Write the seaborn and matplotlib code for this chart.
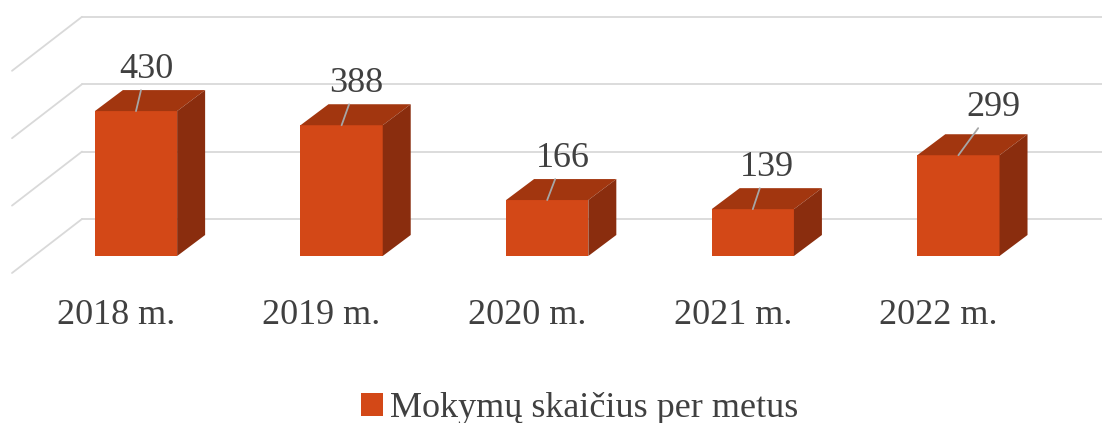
import numpy as np
import pandas as pd
import seaborn as sns
import matplotlib.pyplot as plt
from matplotlib.patches import Polygon

years = ["2018 m.", "2019 m.", "2020 m.", "2021 m.", "2022 m."]
counts = [430, 388, 166, 139, 299]
series_name = "Mokymų skaičius per metus"
grid_values = [0, 200, 400, 600]
# label offsets (pixels right, pixels up) from the bar top
label_offsets = [(10, 42), (15, 42), (16, 42), (14, 42), (35, 48)]

front_col = "#D34817"
top_col = "#A2360F"
side_col = "#8A2D0E"
grid_col = "#D9D9D9"
text_col = "#404040"

# pixel scale of the fake 3D projection
px_cat = 205.6
px_val = 0.337
ddx, ddy = 28 / px_cat, 21 / px_val            # bar depth
wall_back_x, wall_front_x = (82 - 136) / px_cat, (12 - 136) / px_cat
wall_back_y, wall_front_y = 37 / px_val, -17 / px_val

sns.set_theme(style="white")
plt.rcParams['font.family'] = ['Liberation Serif', 'DejaVu Serif']

df = pd.DataFrame({"metai": years, "mokymai": counts, "serija": series_name})

fig = plt.figure(figsize=(11.02, 4.23), dpi=100)
ax = fig.add_axes([0, 0, 1, 1])

sns.barplot(data=df, x="metai", y="mokymai", hue="serija", palette=[front_col],
            width=0.4, dodge=False, saturation=1, linewidth=0, ax=ax, zorder=3)

ax.set_xlim(-136 / px_cat, (1102 - 136) / px_cat)
ax.set_ylim(-167 / px_val, 256 / px_val)
ax.axis('off')

# back wall gridlines + side wall diagonals
x_right = ax.get_xlim()[1]
for g in grid_values:
    ax.plot([wall_back_x, x_right], [g + wall_back_y] * 2, color=grid_col, lw=1.3, zorder=0)
    ax.plot([wall_front_x, wall_back_x], [g + wall_front_y, g + wall_back_y],
            color=grid_col, lw=1.3, zorder=0)

# 3D top and side faces
for p in ax.patches:
    x0, w, h = p.get_x(), p.get_width(), p.get_height()
    if w == 0:
        continue
    top = Polygon([(x0, h), (x0 + w, h), (x0 + w + ddx, h + ddy), (x0 + ddx, h + ddy)],
                  closed=True, facecolor=top_col, edgecolor='none', zorder=3)
    side = Polygon([(x0 + w, 0), (x0 + w + ddx, ddy), (x0 + w + ddx, h + ddy), (x0 + w, h)],
                   closed=True, facecolor=side_col, edgecolor='none', zorder=3)
    ax.add_patch(top)
    ax.add_patch(side)

# data labels with leader lines
for i, (v, (ox, oy)) in enumerate(zip(counts, label_offsets)):
    ax.annotate(str(v), xy=(i, v), xytext=(ox * 0.72, oy * 0.72), textcoords='offset points',
                ha='center', va='center', fontsize=26, color=text_col,
                arrowprops=dict(arrowstyle='-', color='#A6A6A6', lw=1.3,
                                shrinkA=1, shrinkB=0), zorder=5)

# category labels on the floor
for i, lbl in enumerate(years):
    ax.text(i - 20 / px_cat, -59 / px_val, lbl, ha='center', va='center',
            fontsize=26, color=text_col)

leg = ax.legend(loc='upper left', bbox_to_anchor=(361 / 1102, 1 - 392 / 423),
                bbox_transform=fig.transFigure, frameon=False, fontsize=26,
                handlelength=0.6, handleheight=0.6, handletextpad=0.2,
                borderpad=0, borderaxespad=0)
for t in leg.get_texts():
    t.set_color(text_col)

fig.savefig("out.png", dpi=100)
